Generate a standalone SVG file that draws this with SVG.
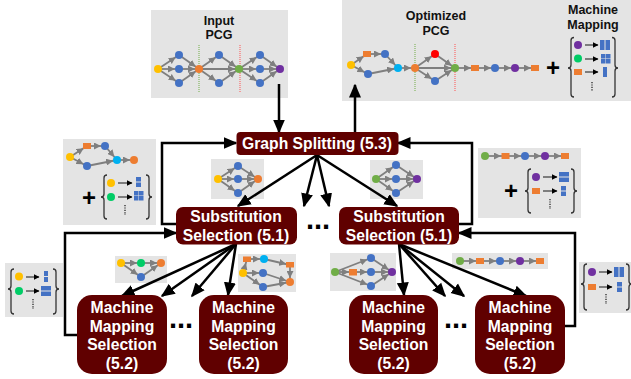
<svg xmlns="http://www.w3.org/2000/svg" width="631" height="379" viewBox="0 0 631 379">
<defs>
<marker id="big" markerUnits="userSpaceOnUse" markerWidth="14" markerHeight="13" refX="12.500" refY="6.500" orient="auto"><path d="M0,0.500 L14,6.500 L0,12.500 z" fill="#000"/></marker>
<marker id="g" markerUnits="userSpaceOnUse" markerWidth="7" markerHeight="7" refX="11" refY="3.500" orient="auto"><path d="M0,0 L7,3.500 L0,7 z" fill="#7f7f7f"/></marker>
<marker id="m" markerUnits="userSpaceOnUse" markerWidth="6" markerHeight="6" refX="5.500" refY="3" orient="auto"><path d="M0,0 L6,3 L0,6 z" fill="#000"/></marker>
</defs>
<style>
.panel{fill:#e4e4e4}
.box{fill:#600000}
.bt{font:bold 15.7px "Liberation Sans",Arial,sans-serif;fill:#fff;text-anchor:middle}
.pt{font:bold 12.5px "Liberation Sans",Arial,sans-serif;fill:#111;text-anchor:middle}
.plus{font:bold 24px "Liberation Sans",Arial,sans-serif;fill:#000;text-anchor:middle}
.dots{font:bold 29px "Liberation Sans",Arial,sans-serif;fill:#000;text-anchor:middle}
.e line{stroke:#7f7f7f;stroke-width:1.8;marker-end:url(#g)}
.main{fill:none;stroke:#000;stroke-width:2.5}
.arr{marker-end:url(#big)}
.ma{stroke:#444;stroke-width:1.3;marker-end:url(#m)}
.vd{stroke:#333;stroke-width:1.4;stroke-dasharray:1.2 1.2}
.br{fill:none;stroke:#333;stroke-width:1.3}
.b{fill:#4472c4}.o{fill:#ed7d31}.y{fill:#ffc000}.l{fill:#70ad47}.n{fill:#00cc66}.p{fill:#7030a0}.c{fill:#00b0f0}.r{fill:#ff0000}
</style>

<g id="panel-input">
<rect class="panel" x="151" y="10" width="137" height="88"/>
<text class="pt" x="219" y="25">Input</text><text class="pt" x="219" y="39">PCG</text>
<line x1="199" y1="45" x2="199" y2="93" stroke="#70ad47" stroke-width="1" stroke-dasharray="1 1"/>
<line x1="240" y1="45" x2="240" y2="93" stroke="#ff5050" stroke-width="1" stroke-dasharray="1 1"/>
<g class="e">
<line x1="158" y1="69" x2="179" y2="55"/><line x1="158" y1="69" x2="179" y2="69"/><line x1="158" y1="69" x2="179" y2="83"/>
<line x1="179" y1="55" x2="199" y2="69"/><line x1="179" y1="69" x2="199" y2="69"/><line x1="179" y1="83" x2="199" y2="69"/>
<line x1="199" y1="69" x2="219" y2="55"/><line x1="199" y1="69" x2="219" y2="83"/><line x1="199" y1="69" x2="239" y2="69"/>
<line x1="219" y1="55" x2="239" y2="69"/><line x1="219" y1="83" x2="239" y2="69"/>
<line x1="239" y1="69" x2="260" y2="55"/><line x1="239" y1="69" x2="260" y2="69"/><line x1="239" y1="69" x2="260" y2="83"/>
<line x1="260" y1="55" x2="280" y2="69"/><line x1="260" y1="69" x2="280" y2="69"/><line x1="260" y1="83" x2="280" y2="69"/>
</g>
<circle class="y" cx="158" cy="69" r="4"/><circle class="b" cx="179" cy="55" r="4"/><circle class="b" cx="179" cy="69" r="4"/><circle class="b" cx="179" cy="83" r="4"/>
<circle class="o" cx="199" cy="69" r="4"/><circle class="b" cx="219" cy="55" r="4"/><circle class="b" cx="219" cy="83" r="4"/><circle class="l" cx="239" cy="69" r="4"/>
<circle class="b" cx="260" cy="55" r="4"/><circle class="b" cx="260" cy="69" r="4"/><circle class="b" cx="260" cy="83" r="4"/><circle class="p" cx="280" cy="69" r="4"/>
</g>

<g id="panel-optimized">
<rect class="panel" x="342" y="0" width="289" height="101"/>
<text class="pt" x="436" y="20">Optimized</text><text class="pt" x="436" y="35">PCG</text>
<text class="pt" x="593" y="14">Machine</text><text class="pt" x="593" y="29">Mapping</text>
<line x1="415" y1="44" x2="415" y2="92" stroke="#70ad47" stroke-width="1" stroke-dasharray="1 1"/>
<line x1="455" y1="44" x2="455" y2="92" stroke="#ff5050" stroke-width="1" stroke-dasharray="1 1"/>
<g class="e">
<line x1="351" y1="65" x2="367" y2="54"/><line x1="367" y1="54" x2="385" y2="54"/><line x1="385" y1="54" x2="398" y2="68"/>
<line x1="351" y1="65" x2="368" y2="74"/><line x1="368" y1="74" x2="398" y2="68"/><line x1="398" y1="68" x2="415" y2="68"/>
<line x1="415" y1="68" x2="435" y2="54"/><line x1="415" y1="68" x2="435" y2="81"/><line x1="415" y1="68" x2="455" y2="68"/>
<line x1="435" y1="54" x2="455" y2="68"/><line x1="435" y1="81" x2="455" y2="68"/><line x1="455" y1="68" x2="475" y2="68"/>
<line x1="475" y1="68" x2="495" y2="68"/><line x1="495" y1="68" x2="515" y2="68"/><line x1="515" y1="68" x2="535" y2="68"/>
</g>
<circle class="y" cx="351" cy="65" r="4"/><rect class="o" x="363" y="51" width="8" height="6"/><circle class="b" cx="385" cy="54" r="4"/><circle class="b" cx="368" cy="74" r="4"/>
<circle class="c" cx="398" cy="68" r="4"/><circle class="o" cx="415" cy="68" r="4"/><circle class="r" cx="435" cy="54" r="4"/><circle class="b" cx="435" cy="81" r="4"/>
<circle class="l" cx="455" cy="68" r="4"/><rect class="o" x="471" y="65" width="8" height="6"/><circle class="b" cx="495" cy="68" r="4"/><circle class="p" cx="515" cy="68" r="4"/><rect class="o" x="531" y="65" width="8" height="6"/>
<text class="plus" x="553" y="76">+</text>
<path class="br" d="M574,37.500 q-3,0 -3,3 v24.500 q0,3 -3,3 q3,0 3,3 v23 q0,3 3,3"/>
<path class="br" d="M612,37.500 q3,0 3,3 v24.500 q0,3 3,3 q-3,0 -3,3 v23 q0,3 -3,3"/>
<circle class="p" cx="578" cy="45" r="4"/><circle class="n" cx="578" cy="58.500" r="4"/><rect class="o" x="574" y="69" width="8" height="6"/>
<line class="ma" x1="585" y1="45" x2="598" y2="45"/><line class="ma" x1="585" y1="59" x2="598" y2="59"/><line class="ma" x1="585" y1="72" x2="598" y2="72"/>
<rect class="b" x="600" y="40" width="4.500" height="10"/><rect class="b" x="605.500" y="40" width="4.500" height="10"/>
<rect class="b" x="601" y="54" width="4.500" height="4.500"/><rect class="b" x="606" y="54" width="4.500" height="4.500"/><rect class="b" x="601" y="59" width="4.500" height="4.500"/><rect class="b" x="606" y="59" width="4.500" height="4.500"/>
<rect class="b" x="603" y="67" width="4" height="10"/>
<line class="vd" x1="592" y1="82" x2="592" y2="91"/>
</g>

<g id="panel-a">
<rect class="panel" x="63" y="139" width="93" height="86"/>
<g class="e">
<line x1="70" y1="157" x2="87" y2="146"/><line x1="87" y1="146" x2="105" y2="146"/><line x1="105" y1="146" x2="117" y2="160"/>
<line x1="70" y1="157" x2="87" y2="166"/><line x1="87" y1="166" x2="117" y2="160"/><line x1="117" y1="160" x2="134" y2="160"/>
</g>
<circle class="y" cx="70" cy="157" r="4"/><rect class="o" x="83" y="143" width="8" height="6"/><circle class="b" cx="105" cy="146" r="4"/><circle class="b" cx="87" cy="166" r="4"/><circle class="c" cx="117" cy="160" r="4"/><circle class="o" cx="134" cy="160" r="4"/>
<text class="plus" x="89" y="206">+</text>
<path class="br" d="M107,175 q-3,0 -3,3 v16 q0,3 -3,3 q3,0 3,3 v16 q0,3 3,3"/>
<path class="br" d="M146,175 q3,0 3,3 v16 q0,3 3,3 q-3,0 -3,3 v16 q0,3 -3,3"/>
<circle class="y" cx="111" cy="183" r="4"/><circle class="n" cx="111" cy="197" r="4"/>
<line class="ma" x1="118" y1="183" x2="132" y2="183"/><line class="ma" x1="118" y1="197" x2="132" y2="197"/>
<rect class="b" x="136" y="177" width="5" height="4.500"/><rect class="b" x="136" y="182.500" width="5" height="4.500"/>
<rect class="b" x="134" y="191" width="4.500" height="4.500"/><rect class="b" x="139" y="191" width="4.500" height="4.500"/><rect class="b" x="134" y="196" width="4.500" height="4.500"/><rect class="b" x="139" y="196" width="4.500" height="4.500"/>
<line class="vd" x1="125" y1="205" x2="125" y2="215"/>
</g>

<g id="panel-b">
<rect class="panel" x="478" y="148" width="103" height="70"/>
<g class="e">
<line x1="485" y1="156" x2="505" y2="156"/><line x1="505" y1="156" x2="525" y2="156"/><line x1="525" y1="156" x2="545" y2="156"/><line x1="545" y1="156" x2="565" y2="156"/>
</g>
<circle class="l" cx="485" cy="156" r="4"/><rect class="o" x="501.500" y="153" width="8" height="6"/><circle class="b" cx="525" cy="156" r="4"/><circle class="p" cx="545" cy="156" r="4"/><rect class="o" x="561" y="153" width="8" height="6"/>
<text class="plus" x="511" y="199">+</text>
<path class="br" d="M531,169 q-3,0 -3,3 v16 q0,3 -3,3 q3,0 3,3 v16 q0,3 3,3"/>
<path class="br" d="M571,169 q3,0 3,3 v16 q0,3 3,3 q-3,0 -3,3 v16 q0,3 -3,3"/>
<circle class="p" cx="536" cy="177" r="4"/><rect class="o" x="532" y="188" width="8" height="6"/>
<line class="ma" x1="543" y1="177" x2="557" y2="177"/><line class="ma" x1="543" y1="191" x2="557" y2="191"/>
<rect class="b" x="559" y="172" width="10" height="4.500"/><rect class="b" x="559" y="177.500" width="10" height="4.500"/>
<rect class="b" x="561" y="186" width="5" height="4.500"/><rect class="b" x="561" y="191.500" width="5" height="4.500"/>
<line class="vd" x1="550" y1="199" x2="550" y2="209"/>
</g>

<g id="panel-c">
<rect class="panel" x="211" y="159" width="53" height="40"/>
<g class="e">
<line x1="218" y1="179" x2="238" y2="166"/><line x1="218" y1="179" x2="238" y2="179"/><line x1="218" y1="179" x2="238" y2="193"/>
<line x1="238" y1="166" x2="258" y2="179"/><line x1="238" y1="179" x2="258" y2="179"/><line x1="238" y1="193" x2="258" y2="179"/>
</g>
<circle class="y" cx="218" cy="179" r="4"/><circle class="b" cx="238" cy="166" r="4"/><circle class="b" cx="238" cy="179" r="4"/><circle class="b" cx="238" cy="193" r="4"/><circle class="o" cx="258" cy="179" r="4"/>
</g>

<g id="panel-d">
<rect class="panel" x="370" y="160" width="53" height="39"/>
<g class="e">
<line x1="376" y1="179" x2="396" y2="165"/><line x1="376" y1="179" x2="396" y2="179"/><line x1="376" y1="179" x2="396" y2="193"/>
<line x1="396" y1="165" x2="417" y2="179"/><line x1="396" y1="179" x2="417" y2="179"/><line x1="396" y1="193" x2="417" y2="179"/>
</g>
<circle class="l" cx="376" cy="179" r="4"/><circle class="b" cx="396" cy="165" r="4"/><circle class="b" cx="396" cy="179" r="4"/><circle class="b" cx="396" cy="193" r="4"/><circle class="p" cx="417" cy="179" r="4"/>
</g>

<g id="panel-e">
<rect class="panel" x="5" y="263" width="58" height="54"/>
<path class="br" d="M14,269 q-3,0 -3,3 v14 q0,3 -3,3 q3,0 3,3 v19 q0,3 3,3"/>
<path class="br" d="M53,269 q3,0 3,3 v14 q0,3 3,3 q-3,0 -3,3 v19 q0,3 -3,3"/>
<circle class="y" cx="19" cy="276.500" r="4"/><circle class="n" cx="19" cy="291" r="4"/>
<line class="ma" x1="26" y1="277" x2="39" y2="277"/><line class="ma" x1="26" y1="291" x2="39" y2="291"/>
<rect class="b" x="44" y="271" width="4" height="5"/><rect class="b" x="44" y="277" width="4" height="5"/>
<rect class="b" x="41" y="286" width="10" height="4.500"/><rect class="b" x="41" y="291.500" width="10" height="4.500"/>
<line class="vd" x1="33" y1="299" x2="33" y2="309"/>
</g>

<g id="panel-f">
<rect class="panel" x="115" y="256" width="52" height="27"/>
<g class="e">
<line x1="121" y1="263" x2="141" y2="263"/><line x1="141" y1="263" x2="161" y2="263"/><line x1="121" y1="263" x2="141" y2="277"/><line x1="141" y1="277" x2="161" y2="263"/>
</g>
<circle class="y" cx="121" cy="263" r="4"/><circle class="n" cx="141" cy="263" r="4"/><circle class="o" cx="161" cy="263" r="4"/><circle class="b" cx="141" cy="277" r="4"/>
</g>

<g id="panel-g">
<rect class="panel" x="238" y="254" width="58" height="38"/>
<g class="e">
<line x1="243" y1="273" x2="247" y2="259"/><line x1="247" y1="259" x2="264" y2="259"/><line x1="264" y1="259" x2="290" y2="265"/><line x1="290" y1="265" x2="290" y2="282"/>
<line x1="243" y1="273" x2="263" y2="273"/><line x1="243" y1="273" x2="263" y2="287"/><line x1="263" y1="273" x2="290" y2="282"/><line x1="263" y1="287" x2="290" y2="282"/>
</g>
<rect class="o" x="243" y="256.500" width="8" height="5.500"/><circle class="c" cx="264" cy="259" r="4"/><rect class="o" x="286" y="262" width="8" height="5.500"/>
<circle class="y" cx="243" cy="273" r="4"/><circle class="b" cx="263" cy="273" r="4"/><circle class="b" cx="263" cy="287" r="4"/><circle class="o" cx="290" cy="282" r="4"/>
</g>

<g id="panel-h">
<rect class="panel" x="330" y="253" width="66" height="38"/>
<g class="e">
<line x1="335" y1="272" x2="371" y2="258"/><line x1="335" y1="272" x2="353" y2="272"/><line x1="335" y1="272" x2="371" y2="286"/><line x1="353" y1="272" x2="371" y2="272"/>
<line x1="371" y1="258" x2="392" y2="272"/><line x1="371" y1="272" x2="392" y2="272"/><line x1="371" y1="286" x2="392" y2="272"/>
</g>
<circle class="l" cx="335" cy="272" r="4"/><circle class="b" cx="371" cy="258" r="4"/><rect class="o" x="349" y="269" width="8" height="6.500"/><circle class="b" cx="371" cy="272" r="4"/><circle class="b" cx="371" cy="286" r="4"/><circle class="p" cx="392" cy="272" r="4"/>
</g>

<g id="panel-i">
<rect class="panel" x="452" y="253" width="96" height="16"/>
<g class="e">
<line x1="460" y1="261" x2="480" y2="261"/><line x1="480" y1="261" x2="500" y2="261"/><line x1="500" y1="261" x2="520" y2="261"/><line x1="520" y1="261" x2="540" y2="261"/>
</g>
<circle class="l" cx="460" cy="261" r="4"/><rect class="o" x="476" y="258" width="8" height="6"/><circle class="b" cx="500" cy="261" r="4"/><circle class="p" cx="520" cy="261" r="4"/><rect class="o" x="536" y="258" width="8" height="6"/>
</g>

<g id="panel-j">
<rect class="panel" x="579" y="262" width="52" height="51"/>
<path class="br" d="M587,264 q-3,0 -3,3 v14 q0,3 -3,3 q3,0 3,3 v20 q0,3 3,3"/>
<path class="br" d="M626,264 q3,0 3,3 v14 q0,3 3,3 q-3,0 -3,3 v20 q0,3 -3,3"/>
<circle class="p" cx="592" cy="272" r="4"/><rect class="o" x="588" y="284" width="8" height="6"/>
<line class="ma" x1="599" y1="272" x2="612" y2="272"/><line class="ma" x1="599" y1="287" x2="612" y2="287"/>
<rect class="b" x="614" y="267" width="4.500" height="10"/><rect class="b" x="619.500" y="267" width="4.500" height="10"/>
<rect class="b" x="617" y="282" width="5" height="4.500"/><rect class="b" x="617" y="287.500" width="5" height="4.500"/>
<line class="vd" x1="606" y1="294" x2="606" y2="304"/>
</g>

<g id="connectors">
<line class="main arr" x1="279" y1="84" x2="279" y2="132"/>
<line class="main arr" x1="355" y1="132" x2="355" y2="85"/>
<path class="main arr" d="M176,224 H162 V143 H236"/>
<path class="main arr" d="M459,224 H472 V143 H398"/>
<path class="main arr" d="M77,335 H65 V233 H176"/>
<path class="main arr" d="M565,326 H575 V233 H459"/>
<line class="main arr" x1="317" y1="155" x2="238" y2="206"/>
<line class="main arr" x1="317" y1="155" x2="304" y2="206"/>
<line class="main arr" x1="317" y1="155" x2="329" y2="206"/>
<line class="main arr" x1="317" y1="155" x2="397" y2="206"/>
<line class="main arr" x1="236" y1="244" x2="122" y2="296"/>
<line class="main arr" x1="236" y1="244" x2="162" y2="296"/>
<line class="main arr" x1="236" y1="244" x2="192" y2="296"/>
<line class="main arr" x1="236" y1="244" x2="228" y2="295"/>
<line class="main arr" x1="399" y1="244" x2="404" y2="295"/>
<line class="main arr" x1="399" y1="244" x2="445" y2="296"/>
<line class="main arr" x1="399" y1="244" x2="464" y2="296"/>
<line class="main arr" x1="399" y1="244" x2="526" y2="296"/>
</g>

<g id="graph-splitting"><rect class="box" x="236.500" y="132" width="162" height="23" rx="4"/><text class="bt" x="317" y="149">Graph Splitting (5.3)</text></g>
<g id="substitution-1"><rect class="box" x="176" y="207" width="121" height="37.500" rx="7"/><text class="bt" x="236" y="222">Substitution</text><text class="bt" x="236" y="241">Selection (5.1)</text></g>
<g id="substitution-2"><rect class="box" x="339" y="207" width="120" height="37.500" rx="7"/><text class="bt" x="399" y="222">Substitution</text><text class="bt" x="399" y="241">Selection (5.1)</text></g>
<g id="mapping-1"><rect class="box" x="77" y="295" width="90" height="79" rx="15"/><text class="bt" x="122" y="313">Machine</text><text class="bt" x="122" y="332">Mapping</text><text class="bt" x="122" y="350">Selection</text><text class="bt" x="122" y="369">(5.2)</text></g>
<g id="mapping-2"><rect class="box" x="199" y="295" width="89" height="79" rx="15"/><text class="bt" x="243.500" y="313">Machine</text><text class="bt" x="243.500" y="332">Mapping</text><text class="bt" x="243.500" y="350">Selection</text><text class="bt" x="243.500" y="369">(5.2)</text></g>
<g id="mapping-3"><rect class="box" x="349" y="295" width="89" height="79" rx="15"/><text class="bt" x="393.500" y="313">Machine</text><text class="bt" x="393.500" y="332">Mapping</text><text class="bt" x="393.500" y="350">Selection</text><text class="bt" x="393.500" y="369">(5.2)</text></g>
<g id="mapping-4"><rect class="box" x="475" y="295" width="90" height="79" rx="15"/><text class="bt" x="520" y="313">Machine</text><text class="bt" x="520" y="332">Mapping</text><text class="bt" x="520" y="350">Selection</text><text class="bt" x="520" y="369">(5.2)</text></g>

<g id="ellipses">
<text class="dots" x="318" y="229">...</text>
<text class="dots" x="181" y="328">...</text>
<text class="dots" x="456" y="328">...</text>
</g>
</svg>
